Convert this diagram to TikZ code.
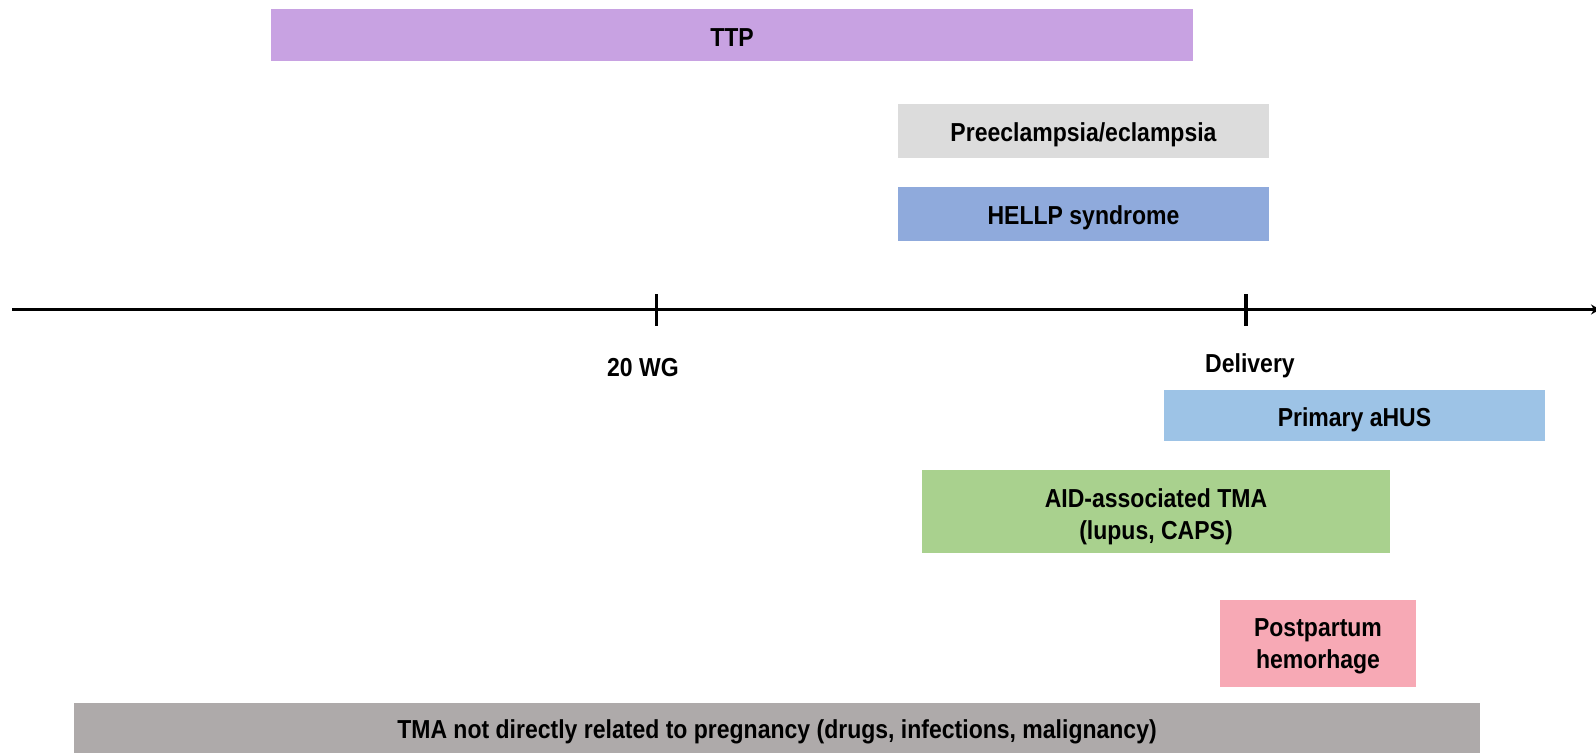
\documentclass[tikz,border=0pt]{standalone}
\usepackage{fontspec}
\setmainfont[FakeStretch=0.885]{Liberation Sans}
\usetikzlibrary{arrows.meta}
\definecolor{ttpc}{HTML}{C8A2E2}
\definecolor{prec}{HTML}{DCDCDC}
\definecolor{hellpc}{HTML}{8FAADC}
\definecolor{ahusc}{HTML}{9DC3E6}
\definecolor{aidc}{HTML}{A9D18E}
\definecolor{pphc}{HTML}{F7A9B5}
\definecolor{tmac}{HTML}{AEAAAA}
\tikzset{
  bar/.style={draw=none, inner sep=0pt},
  bartext/.style={inner sep=0pt, align=center, text=black,
    font=\bfseries\fontsize{26}{31.6}\selectfont},
  lbl/.style={inner sep=0pt, text=black, font=\bfseries\fontsize{26}{30}\selectfont},
  axisline/.style={line width=3.3pt, -{Stealth[length=9pt,width=10pt]}},
  tickline/.style={line width=3.3pt}
}
\begin{document}
\begin{tikzpicture}[x=1pt,y=-1pt]
\useasboundingbox[fill=white] (0,0) rectangle (1596,753);
\node[bar, fill=ttpc, minimum width=922pt, minimum height=52pt] (ttp) at (732,35) {};
\node[bartext] (ttpt) at ([yshift=-3pt]ttp.center) {TTP};
\node[bar, fill=prec, minimum width=371pt, minimum height=54pt] (pre) at (1083.5,131) {};
\node[bartext] (pret) at ([yshift=-4pt]pre.center) {Preeclampsia/eclampsia};
\node[bar, fill=hellpc, minimum width=371pt, minimum height=54pt] (hellp) at (1083.5,214) {};
\node[bartext] (hellpt) at ([yshift=-4pt]hellp.center) {HELLP syndrome};
\node[bar, fill=ahusc, minimum width=381pt, minimum height=51pt] (ahus) at (1354.5,415.5) {};
\node[bartext] (ahust) at ([yshift=-4pt]ahus.center) {Primary aHUS};
\node[bar, fill=aidc, minimum width=468pt, minimum height=83pt] (aid) at (1156,511.5) {};
\node[bartext] (aidt) at ([yshift=-5pt]aid.center) {AID-associated TMA\\(lupus, CAPS)};
\node[bar, fill=pphc, minimum width=196pt, minimum height=87pt] (pph) at (1318,643.5) {};
\node[bartext] (ppht) at ([yshift=-3pt]pph.center) {Postpartum\\hemorhage};
\node[bar, fill=tmac, minimum width=1406pt, minimum height=50pt] (tma) at (777,728) {};
\node[bartext] (tmat) at ([yshift=-4pt]tma.center) {TMA not directly related to pregnancy (drugs, infections, malignancy)};
% axis
\coordinate (a0) at (12,309.5);
\coordinate (a1) at (1600,309.5);
\draw[axisline] (a0) -- (a1);
\coordinate (t1a) at (656.5,294);
\coordinate (t1b) at (656.5,326);
\coordinate (t2a) at (1246,294);
\coordinate (t2b) at (1246,326);
\draw[tickline] (t1a) -- (t1b);
\draw[tickline] (t2a) -- (t2b);
\node[lbl] (wg) at (643,368) {20 WG};
\node[lbl] (del) at (1250,366) {Delivery};
\end{tikzpicture}
\end{document}
